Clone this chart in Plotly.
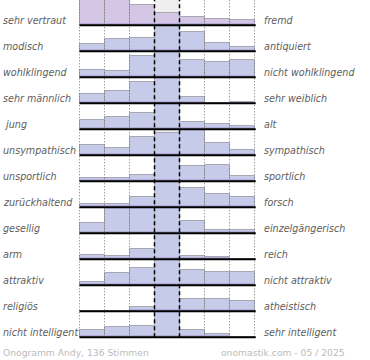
import plotly.graph_objects as go

# ---------------- data ----------------
left_labels = ["sehr vertraut", "modisch", "wohlklingend", "sehr männlich", " jung",
               "unsympathisch", "unsportlich", "zurückhaltend", "gesellig", "arm",
               "attraktiv", "religiös", "nicht intelligent"]
right_labels = ["fremd", "antiquiert", "nicht wohlklingend", "sehr weiblich", "alt",
                "sympathisch", "sportlich", "forsch", "einzelgängerisch", "reich",
                "nicht attraktiv", "atheistisch", "sehr intelligent"]
# relative bar heights per row (7 scale steps, % of row maximum)
values = [
    [100, 100, 80, 48, 32, 26, 22],
    [30, 50, 54, 100, 78, 32, 16],
    [29, 25, 85, 100, 70, 60, 68],
    [36, 49, 86, 100, 26, 0, 6],
    [37, 50, 64, 100, 30, 20, 12],
    [40, 28, 72, 90, 100, 48, 22],
    [15, 15, 26, 100, 62, 66, 23],
    [12, 12, 40, 100, 78, 53, 40],
    [40, 100, 100, 100, 49, 12, 12],
    [16, 12, 40, 100, 12, 10, 0],
    [13, 48, 68, 100, 60, 52, 52],
    [0, 0, 16, 100, 48, 50, 40],
    [28, 41, 47, 100, 30, 14, 0],
]
footer_left = "Onogramm Andy, 136 Stimmen"
footer_right = "onomastik.com - 05 / 2025"

# ---------------- geometry/style ----------------
W, H = 370, 360
PX_UNIT = 25.0            # pixels per 1.0 of relative height
PITCH = 26.0 / PX_UNIT    # row pitch in y units
TOP_BASE_PX = 25.3
y_top = TOP_BASE_PX / PX_UNIT
y_bot = y_top - H / PX_UNIT
COL0_PX, COLW = 92.0, 25.0
x_lo = (0 - COL0_PX) / COLW
x_hi = (W - COL0_PX) / COLW

n_rows = len(values)
n_cols = len(values[0])
bases = [-i * PITCH for i in range(n_rows)]

xs, ys, bs, cols, band = [], [], [], [], []
for i, row in enumerate(values):
    for c, v in enumerate(row):
        xs.append(c)
        ys.append(v / 100)
        bs.append(bases[i])
        cols.append("#D6C6E6" if i == 0 else "#C6CBE9")
        band.append(min(v / 100, 0.1))

fig = go.Figure()
# light grey background in the centre column
fig.add_trace(go.Bar(x=[3] * n_rows, y=[1.0] * n_rows, base=bases, width=1.0,
                     marker=dict(color="#EFEFEF", line=dict(width=0)), hoverinfo="skip"))
fig.add_trace(go.Bar(x=xs, y=ys, base=bs, width=1.0,
                     marker=dict(color=cols, line=dict(color="#A8A8B4", width=1)),
                     hoverinfo="skip"))
fig.add_trace(go.Bar(x=xs, y=band, base=bs, width=1.0,
                     marker=dict(color="#ABA3D3", line=dict(width=0)), opacity=0.75,
                     hoverinfo="skip"))

shapes = []
y_line_bot = bases[-1]
for e in [-0.5, 0.5, 1.5, 4.5, 5.5, 6.5]:
    shapes.append(dict(type="line", x0=e, x1=e, y0=y_line_bot, y1=y_top, xref="x", yref="y",
                       line=dict(color="#777777", width=1, dash="1px,2px")))
for e in [2.5, 3.5]:
    shapes.append(dict(type="line", x0=e, x1=e, y0=y_line_bot, y1=y_top, xref="x", yref="y",
                       line=dict(color="#000000", width=1.5, dash="4px,3px")))
for b in bases:
    shapes.append(dict(type="line", x0=-0.5, x1=6.55, y0=b, y1=b, xref="x", yref="y",
                       line=dict(color="#000000", width=2)))

ann = []
lab_font = dict(family="DejaVu Sans", size=9.6, color="#5E5E5E")
for i in range(n_rows):
    yl = bases[i] + 4.8 / PX_UNIT
    ann.append(dict(x=0.5 / W, y=yl, xref="paper", yref="y", text="<i>" + left_labels[i] + "</i>",
                    xanchor="left", yanchor="middle", showarrow=False, font=lab_font))
    ann.append(dict(x=262 / W, y=yl, xref="paper", yref="y", text="<i>" + right_labels[i] + "</i>",
                    xanchor="left", yanchor="middle", showarrow=False, font=lab_font))
foot_font = dict(family="DejaVu Sans", size=9.2, color="#BBBBBB")
ann.append(dict(x=1 / W, y=1 - 352 / H, xref="paper", yref="paper", text=footer_left,
                xanchor="left", yanchor="middle", showarrow=False, font=foot_font))
ann.append(dict(x=347 / W, y=1 - 352 / H, xref="paper", yref="paper", text=footer_right,
                xanchor="right", yanchor="middle", showarrow=False, font=foot_font))

fig.update_layout(
    width=W, height=H, margin=dict(l=0, r=0, t=0, b=0),
    paper_bgcolor="white", plot_bgcolor="white",
    barmode="overlay", bargap=0, showlegend=False,
    xaxis=dict(range=[x_lo, x_hi], visible=False, fixedrange=True),
    yaxis=dict(range=[y_bot, y_top], visible=False, fixedrange=True),
    shapes=shapes, annotations=ann,
)
fig.write_html("out.html", config={"displayModeBar": False},
               post_script="document.body.style.margin='0';document.body.style.padding='0';"
                           "document.documentElement.style.overflow='hidden';")
